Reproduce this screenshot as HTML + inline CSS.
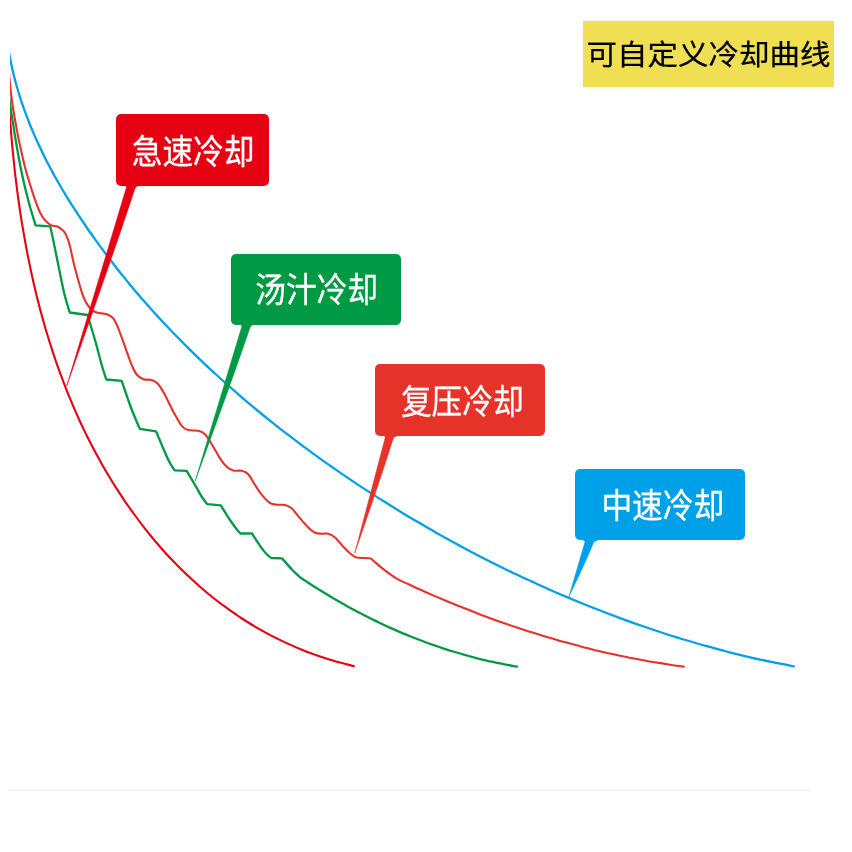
<!DOCTYPE html>
<html lang="zh-CN">
<head>
<meta charset="utf-8">
<title>可自定义冷却曲线</title>
<style>
html,body{margin:0;padding:0;background:#fff;}
body{width:852px;height:852px;position:relative;overflow:hidden;font-family:"Liberation Sans","Noto Sans CJK SC",sans-serif;}
svg{position:absolute;left:0;top:0;}
.lbl{position:absolute;border-radius:5px;}
.txt{position:absolute;width:200px;height:40px;line-height:40px;color:#fff;font-size:30.7px;font-weight:400;text-align:center;white-space:nowrap;transform:scaleY(1.1);transform-origin:50% 50%;-webkit-text-stroke:0.3px #fff;}
.title{position:absolute;left:583px;top:21.4px;width:250.8px;height:65.2px;background:#f1df53;}
.ttxt{position:absolute;left:583px;top:35.3px;width:250.8px;height:40px;line-height:40px;color:#000;font-size:30.5px;font-weight:400;text-align:center;white-space:nowrap;transform:scaleY(0.94);transform-origin:50% 50%;-webkit-text-stroke:0.25px #000;}
.rule{position:absolute;left:8px;top:789px;width:803px;height:2px;background:#f4f5f5;}
</style>
</head>
<body>
<svg width="852" height="852" viewBox="0 0 852 852">
<defs><clipPath id="plot"><rect x="10" y="0" width="842" height="852"/></clipPath></defs>
<g fill="none" stroke-linejoin="round" stroke-linecap="butt" clip-path="url(#plot)">
<path d="M7.6 44.0 C7.6 44.3 7.7 45.0 7.9 45.8 C8.0 46.7 8.2 47.9 8.4 49.2 C8.6 50.5 8.9 51.9 9.2 53.5 C9.4 55.1 9.8 56.8 10.1 58.6 C10.5 60.4 10.9 62.3 11.3 64.4 C11.7 66.4 12.2 68.5 12.7 70.7 C13.2 72.9 13.8 75.2 14.4 77.5 C15.0 79.9 15.6 82.3 16.3 84.8 C17.0 87.3 17.8 89.9 18.6 92.5 C19.4 95.1 20.2 97.8 21.1 100.6 C22.1 103.3 23.0 106.1 24.0 109.0 C25.0 111.9 26.1 114.8 27.3 117.7 C28.4 120.7 29.6 123.7 30.8 126.8 C32.1 129.8 33.4 132.9 34.8 136.1 C36.2 139.2 37.6 142.4 39.1 145.6 C40.6 148.8 42.2 152.1 43.8 155.4 C45.4 158.6 47.1 162.0 48.9 165.3 C50.6 168.7 52.5 172.1 54.3 175.5 C56.2 178.9 58.2 182.3 60.2 185.8 C62.2 189.3 64.3 192.8 66.4 196.3 C68.6 199.8 70.8 203.3 73.1 206.9 C75.3 210.4 77.7 214.0 80.1 217.6 C82.5 221.2 84.9 224.8 87.4 228.5 C89.9 232.1 92.5 235.8 95.1 239.4 C97.7 243.1 100.4 246.8 103.2 250.4 C105.9 254.1 108.7 257.8 111.6 261.5 C114.4 265.3 117.3 269.0 120.3 272.7 C123.3 276.4 126.3 280.2 129.4 283.9 C132.5 287.7 135.7 291.4 138.9 295.2 C142.1 298.9 145.4 302.7 148.8 306.4 C152.1 310.2 155.5 314.0 159.0 317.7 C162.4 321.5 166.0 325.2 169.5 329.0 C173.1 332.8 176.8 336.5 180.5 340.3 C184.2 344.0 188.0 347.8 191.8 351.6 C195.6 355.3 199.5 359.1 203.4 362.8 C207.4 366.5 211.4 370.3 215.5 374.0 C219.5 377.7 223.7 381.5 227.9 385.2 C232.0 388.9 236.3 392.6 240.6 396.3 C244.9 400.0 249.3 403.7 253.7 407.4 C258.1 411.1 262.6 414.7 267.1 418.4 C271.7 422.0 276.3 425.7 280.9 429.3 C285.6 432.9 290.3 436.5 295.1 440.1 C299.8 443.7 304.6 447.3 309.5 450.9 C314.4 454.5 319.3 458.0 324.3 461.6 C329.3 465.1 334.3 468.6 339.4 472.1 C344.5 475.6 349.6 479.1 354.8 482.6 C360.0 486.1 365.3 489.5 370.6 492.9 C375.8 496.4 381.2 499.8 386.6 503.1 C392.0 506.5 397.4 509.9 402.9 513.2 C408.4 516.6 414.0 519.9 419.6 523.1 C425.2 526.4 430.8 529.7 436.6 532.9 C442.3 536.1 448.0 539.3 453.8 542.5 C459.6 545.7 465.5 548.8 471.4 551.9 C477.3 555.0 483.3 558.1 489.3 561.2 C495.3 564.2 501.4 567.2 507.5 570.2 C513.7 573.1 519.8 576.1 526.1 579.0 C532.3 581.9 538.6 584.7 544.9 587.5 C551.2 590.4 557.6 593.1 564.0 595.9 C570.5 598.6 577.0 601.3 583.5 604.0 C590.0 606.6 596.6 609.2 603.3 611.8 C609.9 614.3 616.6 616.8 623.4 619.3 C630.1 621.8 636.9 624.2 643.8 626.5 C650.6 628.9 657.5 631.2 664.5 633.5 C671.4 635.7 678.4 637.9 685.5 640.0 C692.5 642.1 699.6 644.2 706.8 646.2 C713.9 648.2 721.1 650.1 728.3 652.0 C735.6 653.8 742.9 655.6 750.2 657.3 C757.5 659.0 764.9 660.6 772.3 662.2 C779.7 663.7 791.0 665.8 794.7 666.5" stroke="#00a0e9" stroke-width="2.3"/>
<path d="M8.3 90.0 C8.3 90.3 8.3 90.8 8.4 91.6 C8.4 92.3 8.5 93.4 8.5 94.5 C8.6 95.6 8.7 96.8 8.7 98.2 C8.8 99.5 8.9 101.0 9.0 102.6 C9.1 104.2 9.2 105.8 9.3 107.6 C9.4 109.4 9.5 111.2 9.7 113.2 C9.8 115.1 9.9 117.1 10.1 119.2 C10.2 121.3 10.4 123.5 10.6 125.7 C10.7 127.9 10.9 130.2 11.1 132.6 C11.3 135.0 11.5 137.4 11.7 139.9 C11.9 142.4 12.2 145.0 12.4 147.6 C12.7 150.3 12.9 153.0 13.2 155.7 C13.5 158.4 13.8 161.3 14.1 164.1 C14.4 167.0 14.7 169.9 15.0 172.9 C15.4 175.8 15.7 178.8 16.1 181.9 C16.5 185.0 16.9 188.1 17.3 191.3 C17.7 194.5 18.1 197.7 18.6 200.9 C19.1 204.2 19.5 207.5 20.0 210.9 C20.5 214.3 21.1 217.7 21.6 221.1 C22.2 224.5 22.8 228.0 23.4 231.6 C24.0 235.1 24.6 238.7 25.3 242.3 C25.9 245.9 26.6 249.6 27.3 253.2 C28.0 256.9 28.8 260.7 29.6 264.4 C30.3 268.2 31.2 272.0 32.0 275.8 C32.9 279.6 33.7 283.5 34.7 287.4 C35.6 291.3 36.5 295.2 37.5 299.2 C38.5 303.1 39.5 307.1 40.6 311.1 C41.7 315.1 42.8 319.2 44.0 323.2 C45.1 327.3 46.3 331.4 47.6 335.5 C48.8 339.6 50.1 343.8 51.5 347.9 C52.8 352.1 54.2 356.3 55.6 360.5 C57.1 364.7 58.6 368.9 60.1 373.1 C61.7 377.3 63.3 381.6 64.9 385.8 C66.6 390.1 68.3 394.4 70.1 398.7 C71.8 403.0 73.7 407.3 75.6 411.6 C77.5 415.9 79.4 420.2 81.4 424.5 C83.5 428.8 85.5 433.2 87.7 437.5 C89.9 441.8 92.1 446.1 94.4 450.5 C96.7 454.8 99.1 459.1 101.5 463.5 C103.9 467.8 106.5 472.1 109.1 476.5 C111.7 480.8 114.3 485.1 117.1 489.4 C119.9 493.7 122.7 498.0 125.6 502.3 C128.6 506.5 131.6 510.8 134.7 515.0 C137.7 519.2 140.9 523.4 144.2 527.6 C147.5 531.8 150.8 535.9 154.2 540.0 C157.7 544.1 161.2 548.1 164.8 552.2 C168.5 556.2 172.2 560.1 176.0 564.0 C179.8 567.9 183.7 571.8 187.7 575.6 C191.7 579.4 195.8 583.1 200.0 586.7 C204.2 590.4 208.4 594.0 212.8 597.5 C217.2 601.0 221.7 604.4 226.3 607.7 C230.9 611.1 235.6 614.3 240.4 617.5 C245.2 620.6 250.0 623.7 255.0 626.6 C260.0 629.5 265.1 632.4 270.3 635.1 C275.5 637.8 280.7 640.4 286.1 642.9 C291.5 645.4 296.9 647.8 302.5 650.0 C308.0 652.2 313.7 654.4 319.4 656.3 C325.1 658.3 330.9 660.1 336.8 661.8 C342.7 663.4 351.7 665.5 354.7 666.3" stroke="#e60012" stroke-width="2.1"/>
<path d="M7.8 82.0 C8.0 84.0 8.5 90.3 8.9 94.0 C9.3 97.7 9.5 100.2 10.0 104.0 C10.5 107.8 11.2 112.2 11.9 116.5 C12.6 120.8 13.5 126.1 14.1 130.0 C14.7 133.9 14.5 133.1 15.7 140.0 C16.9 146.9 19.2 160.9 21.4 171.4 C23.6 181.9 26.5 193.8 28.9 202.8 C31.3 211.8 34.5 221.6 35.6 225.4 L50.3 226.4 C51.0 229.8 53.3 240.4 54.6 246.8 C55.9 253.2 56.7 257.2 58.3 265.0 C59.9 272.8 62.3 285.4 64.2 293.3 C66.1 301.2 68.8 309.3 69.7 312.5 L87.5 315.0 C88.8 319.2 92.6 331.7 95.0 340.0 C97.4 348.3 99.8 358.4 101.7 365.0 C103.6 371.6 105.5 377.1 106.3 379.5 L121.7 380.8 C123.1 384.8 127.5 398.2 130.0 405.0 C132.5 411.8 135.0 417.7 136.7 421.7 C138.4 425.7 139.4 427.7 140.0 428.9 L156.0 431.3 C157.5 434.8 162.7 447.2 165.0 452.5 C167.3 457.8 168.4 460.3 170.0 463.3 C171.6 466.3 173.9 469.1 174.7 470.3 L186.7 470.8 C188.1 473.2 192.5 480.7 195.0 485.0 C197.5 489.3 199.7 493.5 201.7 496.7 C203.7 499.9 206.3 502.9 207.2 504.2 L220.8 505.3 C222.3 507.8 227.3 516.0 230.0 520.0 C232.7 524.0 234.9 527.0 236.7 529.2 C238.4 531.5 239.9 532.8 240.5 533.5 L252.0 533.5 C253.3 535.5 257.6 542.3 260.0 545.8 C262.4 549.2 264.8 552.2 266.7 554.2 C268.6 556.2 270.5 557.4 271.3 558.0 L282.0 558.3 C283.6 560.1 288.7 566.0 291.7 569.2 C294.7 572.4 298.6 575.9 300.0 577.3 C300.6 577.7 302.0 578.6 303.3 579.5 C304.7 580.4 306.5 581.6 308.2 582.8 C310.0 583.9 312.0 585.2 314.0 586.5 C316.1 587.8 318.2 589.1 320.5 590.5 C322.7 591.9 325.1 593.4 327.5 594.8 C329.9 596.3 332.4 597.8 335.0 599.3 C337.6 600.8 340.2 602.3 343.0 603.8 C345.7 605.4 348.5 606.9 351.3 608.5 C354.2 610.0 357.1 611.6 360.1 613.1 C363.1 614.7 366.2 616.2 369.3 617.8 C372.4 619.4 375.6 620.9 378.8 622.5 C382.1 624.0 385.4 625.5 388.7 627.1 C392.1 628.6 395.5 630.1 398.9 631.6 C402.4 633.1 405.9 634.5 409.5 636.0 C413.1 637.4 416.7 638.8 420.4 640.2 C424.0 641.6 427.8 643.0 431.6 644.4 C435.3 645.7 439.2 647.0 443.0 648.3 C446.9 649.6 450.8 650.8 454.8 652.0 C458.8 653.2 462.8 654.4 466.9 655.5 C470.9 656.6 475.0 657.7 479.2 658.8 C483.4 659.8 487.6 660.8 491.8 661.7 C496.1 662.7 500.3 663.5 504.7 664.4 C509.0 665.2 515.6 666.3 517.8 666.7" stroke="#009944" stroke-width="2.3"/>
<path d="M8.2 64.0 C8.3 65.7 8.8 70.9 9.1 74.2 C9.4 77.5 9.6 80.0 10.0 84.0 C10.4 88.0 10.9 93.0 11.6 98.0 C12.3 103.0 13.1 108.7 14.0 114.0 C14.9 119.3 16.1 125.7 16.9 130.0 C17.7 134.3 17.4 133.7 18.8 140.0 C20.2 146.3 22.8 158.8 25.1 167.6 C27.4 176.4 30.2 185.2 32.7 192.8 C35.2 200.4 38.1 208.3 40.2 212.9 C42.3 217.5 43.3 218.3 45.2 220.4 C47.1 222.5 49.4 224.4 51.5 225.4 C53.6 226.4 55.7 225.6 57.8 226.7 C59.9 227.8 62.4 229.6 64.1 231.7 C65.8 233.8 66.8 236.7 67.8 239.2 C68.8 241.7 68.9 242.0 70.1 246.8 C71.3 251.7 72.8 260.0 75.0 268.3 C77.2 276.6 80.8 290.0 83.3 296.7 C85.8 303.4 87.8 305.7 90.0 308.3 C92.2 310.9 93.9 311.5 96.7 312.5 C99.5 313.5 103.9 313.2 106.7 314.2 C109.5 315.2 111.4 315.9 113.3 318.3 C115.2 320.7 116.3 323.6 118.3 328.3 C120.2 333.0 122.8 340.6 125.0 346.7 C127.2 352.8 129.8 360.4 131.7 365.0 C133.6 369.6 134.8 372.1 136.7 374.5 C138.6 376.9 140.8 378.3 143.3 379.2 C145.8 380.1 149.2 379.2 151.7 380.0 C154.2 380.8 156.1 381.7 158.3 384.2 C160.5 386.7 162.5 390.4 165.0 395.0 C167.5 399.6 170.5 406.6 173.3 411.7 C176.1 416.8 179.2 422.8 181.7 425.8 C184.2 428.9 185.5 429.2 188.3 430.0 C191.1 430.8 195.5 430.1 198.3 430.8 C201.1 431.5 202.8 432.0 205.0 434.2 C207.2 436.4 209.2 440.2 211.7 444.2 C214.2 448.2 217.5 454.6 220.0 458.3 C222.5 462.1 224.5 464.7 226.7 466.7 C228.9 468.7 230.8 469.8 233.3 470.5 C235.8 471.2 239.2 470.2 241.7 470.8 C244.2 471.4 246.1 471.8 248.3 474.2 C250.5 476.6 252.5 481.2 255.0 485.0 C257.5 488.8 260.8 493.7 263.3 496.7 C265.8 499.7 267.8 501.7 270.0 503.0 C272.2 504.3 274.2 504.4 276.7 504.7 C279.2 505.0 282.5 504.4 285.0 505.0 C287.5 505.6 289.2 506.1 291.7 508.3 C294.2 510.5 297.2 515.1 300.0 518.3 C302.8 521.5 305.8 525.1 308.3 527.5 C310.8 529.9 312.8 531.7 315.0 532.7 C317.2 533.7 319.5 533.5 321.7 533.7 C323.9 533.9 326.1 533.1 328.3 533.7 C330.5 534.3 332.5 535.3 335.0 537.5 C337.5 539.7 340.8 544.1 343.3 546.7 C345.8 549.3 348.1 551.6 350.0 553.3 C351.9 554.9 353.2 555.9 354.5 556.6 C355.8 557.4 355.5 557.5 358.0 557.8 C360.5 558.1 366.9 557.7 369.5 558.2 C372.1 558.7 371.2 559.0 373.5 560.8 C375.8 562.6 379.4 566.2 383.3 569.2 C387.2 572.2 392.5 576.2 396.7 578.7 C400.9 581.2 404.6 582.5 408.6 584.3 C412.5 586.1 416.5 588.0 420.5 589.8 C424.5 591.6 428.5 593.3 432.5 595.1 C436.5 596.8 440.6 598.5 444.6 600.2 C448.7 601.9 452.7 603.6 456.8 605.3 C460.8 606.9 464.9 608.5 469.0 610.1 C473.1 611.7 477.2 613.3 481.3 614.9 C485.4 616.4 489.5 617.9 493.6 619.4 C497.7 620.9 501.9 622.4 506.0 623.8 C510.2 625.3 514.3 626.7 518.5 628.1 C522.6 629.4 526.8 630.8 531.0 632.1 C535.2 633.4 539.4 634.7 543.6 636.0 C547.8 637.3 552.0 638.5 556.2 639.7 C560.4 641.0 564.6 642.1 568.9 643.3 C573.1 644.4 577.3 645.6 581.6 646.7 C585.8 647.8 590.1 648.8 594.3 649.9 C598.6 650.9 602.9 651.9 607.1 652.9 C611.4 653.8 615.7 654.8 620.0 655.7 C624.3 656.6 628.6 657.5 632.9 658.3 C637.2 659.1 641.5 659.9 645.8 660.7 C650.1 661.5 654.4 662.2 658.7 662.9 C663.0 663.7 667.4 664.3 671.7 665.0 C676.0 665.6 682.5 666.5 684.7 666.8" stroke="#e6332a" stroke-width="2.1"/>
</g>
<path d="M123.6 184.3 L125.1 185.8 Q126.9 186.0 126.3 187.8 L66.6 386.3 Q115.5 247.8 135.0 188.4 Q135.9 186.1 138.8 185.8 L139.6 184.3 Z" fill="#e60012" stroke="#e60012" stroke-width="0.5" stroke-linejoin="round"/>
<path d="M239.0 323.3 L240.5 324.8 Q242.3 325.0 241.7 326.8 L195.1 481.2 Q234.5 373.5 250.0 327.4 Q250.9 325.1 253.8 324.8 L254.6 323.3 Z" fill="#009944" stroke="#009944" stroke-width="0.5" stroke-linejoin="round"/>
<path d="M382.4 434.5 L383.9 436.0 Q385.7 436.2 385.1 438.0 L354.7 553.3 Q382.6 473.0 393.2 438.6 Q394.1 436.3 397.0 436.0 L397.8 434.5 Z" fill="#e6332a" stroke="#e6332a" stroke-width="0.5" stroke-linejoin="round"/>
<path d="M582.1 539.0 L583.6 540.5 Q585.4 540.7 584.8 542.5 L568.8 597.0 Q587.0 559.3 593.4 543.1 Q594.3 540.8 597.2 540.5 L598.0 539.0 Z" fill="#00a0e9" stroke="#00a0e9" stroke-width="0.5" stroke-linejoin="round"/>
</svg>
<div class="lbl" style="left:115.6px;top:114.2px;width:153.6px;height:71.6px;background:#e60012;"></div>
<div class="txt" style="left:93.1px;top:132.8px;">急速冷却</div>
<div class="lbl" style="left:231.2px;top:254.3px;width:169.5px;height:70.5px;background:#009944;"></div>
<div class="txt" style="left:216.7px;top:270.5px;">汤汁冷却</div>
<div class="lbl" style="left:374.9px;top:364.4px;width:170.2px;height:71.6px;background:#e6332a;"></div>
<div class="txt" style="left:362.3px;top:382.5px;">复压冷却</div>
<div class="lbl" style="left:574.7px;top:469.3px;width:170.4px;height:71.2px;background:#00a0e9;"></div>
<div class="txt" style="left:562.8px;top:487.0px;">中速冷却</div>
<div class="title"></div>
<div class="ttxt">可自定义冷却曲线</div>
<div class="rule"></div>
</body>
</html>
